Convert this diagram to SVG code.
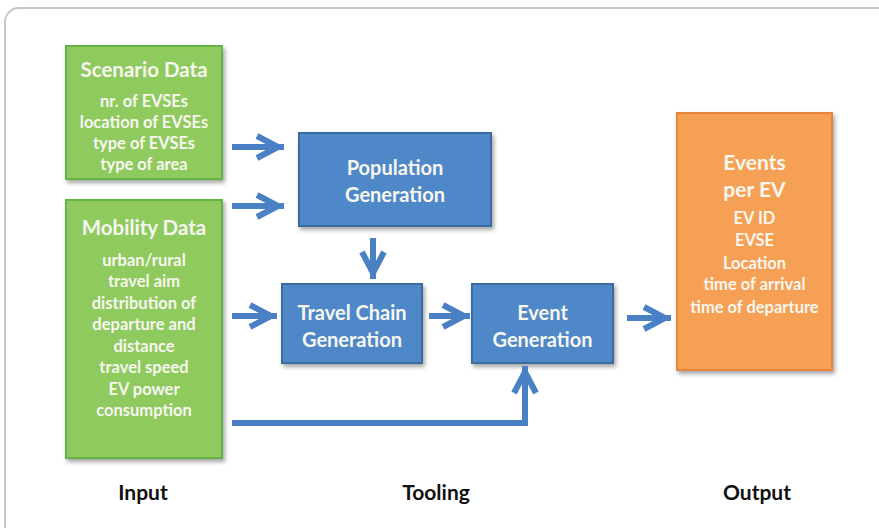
<svg xmlns="http://www.w3.org/2000/svg" width="879" height="528" viewBox="0 0 879 528">
<defs>
<filter id="sh" x="-10%" y="-10%" width="130%" height="130%">
<feDropShadow dx="2" dy="3" stdDeviation="2" flood-color="#000" flood-opacity="0.35"/>
</filter>
<marker id="ah" markerUnits="userSpaceOnUse" orient="auto" markerWidth="40" markerHeight="40" refX="0" refY="0" viewBox="-30 -20 40 40" overflow="visible">
<path d="M-27,-11 L-6,0 L-27,11" fill="none" stroke="#4a81c4" stroke-width="6" stroke-linejoin="miter"/>
</marker>
<style>
.g{fill:#8fca5f;stroke:#62b543;stroke-width:2;filter:url(#sh)}
.b{fill:#4f88c9;stroke:#3a6aa0;stroke-width:2;filter:url(#sh)}
.o{fill:#f6a055;stroke:#e9843b;stroke-width:2;filter:url(#sh)}
text{font-family:Lato,"Open Sans","Liberation Sans",sans-serif;fill:#f7f7ef;text-anchor:middle}
.t{font-size:20.5px;font-weight:bold}
.s{font-size:16.5px;font-weight:bold}
.bt{font-size:20px;font-weight:bold}
.l{font-size:21px;font-weight:bold;fill:#111}
.c{fill:none;stroke:#4a81c4;stroke-width:6;marker-end:url(#ah)}
</style>
</defs>
<rect x="0" y="0" width="879" height="528" fill="#fff"/>
<rect x="5" y="8" width="900" height="540" rx="14" fill="none" stroke="#c8c8c8" stroke-width="2"/>
<g id="scenario">
<rect class="g" x="66" y="46" width="156" height="133"/>
<text class="t" x="144" y="77">Scenario Data</text>
<text class="s" x="144" y="107">nr. of EVSEs</text>
<text class="s" x="144" y="128">location of EVSEs</text>
<text class="s" x="144" y="149">type of EVSEs</text>
<text class="s" x="144" y="170">type of area</text>
</g>
<g id="mobility">
<rect class="g" x="66" y="200" width="156" height="258"/>
<text class="t" x="144" y="235">Mobility Data</text>
<text class="s" x="144" y="266">urban/rural</text>
<text class="s" x="144" y="287">travel aim</text>
<text class="s" x="144" y="309">distribution of</text>
<text class="s" x="144" y="330">departure and</text>
<text class="s" x="144" y="352">distance</text>
<text class="s" x="144" y="373">travel speed</text>
<text class="s" x="144" y="395">EV power</text>
<text class="s" x="144" y="416">consumption</text>
</g>
<g id="population">
<rect class="b" x="299" y="133" width="192" height="93"/>
<text class="bt" x="395" y="175">Population</text>
<text class="bt" x="395" y="202">Generation</text>
</g>
<g id="travelchain">
<rect class="b" x="282" y="284" width="140" height="79"/>
<text class="bt" x="352" y="320">Travel Chain</text>
<text class="bt" x="352" y="347">Generation</text>
</g>
<g id="event">
<rect class="b" x="472" y="284" width="141" height="79"/>
<text class="bt" x="542.5" y="320">Event</text>
<text class="bt" x="542.5" y="347">Generation</text>
</g>
<g id="output">
<rect class="o" x="677" y="113" width="155" height="257"/>
<text class="t" x="754.5" y="170" style="font-size:21px">Events</text>
<text class="t" x="754.5" y="197" style="font-size:21px">per EV</text>
<text class="s" x="754.5" y="224">EV ID</text>
<text class="s" x="754.5" y="246">EVSE</text>
<text class="s" x="754.5" y="269">Location</text>
<text class="s" x="754.5" y="290">time of arrival</text>
<text class="s" x="754.5" y="313">time of departure</text>
</g>
<g id="connectors">
<path class="c" d="M232,147 H284"/>
<path class="c" d="M232,206 H284"/>
<path class="c" d="M373,238 V279"/>
<path class="c" d="M232,316 H277"/>
<path class="c" d="M429,316 H470"/>
<path class="c" d="M627,318 H671"/>
<path class="c" d="M232,423 H525 V366" stroke-linejoin="miter"/>
</g>
<g id="labels">
<text class="l" x="143" y="500">Input</text>
<text class="l" x="436" y="500">Tooling</text>
<text class="l" x="757" y="500">Output</text>
</g>
</svg>
